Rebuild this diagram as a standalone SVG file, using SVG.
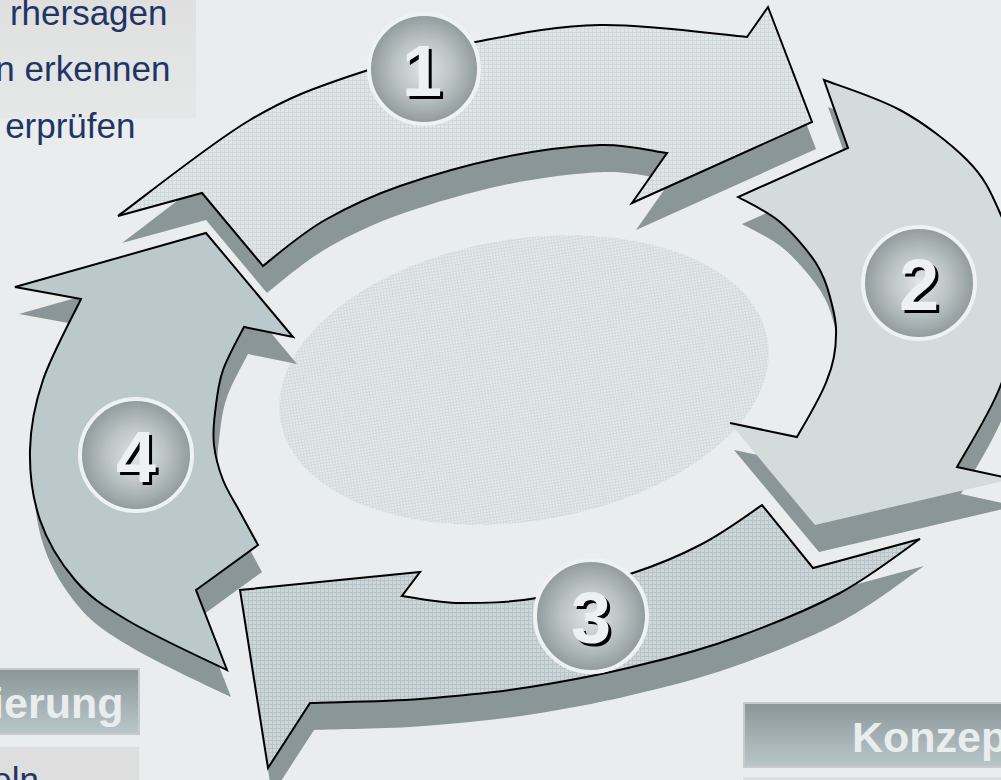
<svg xmlns="http://www.w3.org/2000/svg" width="1001" height="780" viewBox="0 0 1001 780">
<defs>
<style>
.ext{fill:#8a9698}
.ol{fill:none;stroke:#000;stroke-width:2;stroke-linejoin:miter}
.body{font-family:"Liberation Sans",Arial,sans-serif;font-size:35px;fill:#1f3566;text-anchor:end}
.hdr{font-family:"Liberation Sans",Arial,sans-serif;font-size:43px;font-weight:bold;fill:#e8eded}
.num{font-family:"Liberation Sans",Arial,sans-serif;font-size:72px;font-weight:bold;text-anchor:middle}
.ring{stroke:#eef2f2;stroke-width:4;fill:url(#rg)}
.hbox{fill:url(#hg);stroke:#c6caca;stroke-width:2}
</style>
<pattern id="p1" width="4" height="4" patternUnits="userSpaceOnUse"><rect width="4" height="4" fill="#e0e6e6"/><path d="M0 .5H4M.5 0V4" stroke="#d0d9d9" stroke-width="1"/></pattern>
<pattern id="p3" width="4" height="4" patternUnits="userSpaceOnUse"><rect width="4" height="4" fill="#cdd6d8"/><path d="M0 .5H4M.5 0V4" stroke="#b8c4c7" stroke-width="1"/></pattern>
<pattern id="pe" width="3" height="3" patternUnits="userSpaceOnUse"><rect width="3" height="3" fill="#e4e9ea"/><path d="M0 .5H3M.5 0V3" stroke="#d3dbdd" stroke-width="1"/></pattern>
<radialGradient id="rg" cx="50%" cy="50%" r="50%"><stop offset="0" stop-color="#e0e5e5"/><stop offset="0.55" stop-color="#b9c1c2"/><stop offset="1" stop-color="#8f9a9c"/></radialGradient>
<linearGradient id="hg" x1="0" y1="0" x2="0" y2="1"><stop offset="0" stop-color="#8b9699"/><stop offset="1" stop-color="#bac7ca"/></linearGradient>
<linearGradient id="tg" x1="0" y1="0" x2="0" y2="1"><stop offset="0" stop-color="#dfdfdf"/><stop offset="1" stop-color="#e6e8e8"/></linearGradient>
<path id="a1" d="M118,216 C140,200 211,143 250,120 C289,97 312,89 350,76 C388,63 433,51 475,42 C517,34 555,26 600,25 C645,24 723,35 747,37 L768,7 L812,122 L632,203 L667,153 C656,152 628,144 600,145 C572,146 533,151 500,158 C467,165 429,176 400,186 C371,196 348,207 325,220 C302,233 273,258 263,266 L202,193 Z"/>
<path id="a2" d="M824,80 C837,85 876,97 900,110 C924,123 950,143 967,160 C984,177 990,190 1000,213 C1010,236 1025,271 1025,300 C1025,329 1011,359 1000,387 C989,415 964,454 957,467 L1012,479 L815,525 L730,423 L797,437 C802,428 821,397 827,380 C834,363 836,349 836,335 C837,321 833,309 830,297 C827,285 824,276 816,263 C808,251 793,233 780,222 C767,211 745,201 738,197 L848,148 Z"/>
<path id="a3" d="M920,539 C907,548 870,577 840,593 C810,609 773,624 740,636 C707,648 675,657 640,665 C605,674 567,681 530,687 C493,693 457,696 420,699 C383,702 328,702 310,703 L268,768 L240,590 L420,572 L402,596 C412,597 438,603 460,603 C483,603 508,603 537,598 C566,593 606,582 633,573 C660,564 679,556 700,545 C722,534 752,512 762,505 L813,568 Z"/>
<path id="a4" d="M81,299 L15,287 L206,233 L293,337 L244,327 C240.5,334 228,356 223,370 C218,384 216.5,400.5 215,413 C213.5,425.5 212.7,434 214,445 C215.3,456 218.7,469 223,480 C227.3,491 234,501 240,512 C246,523 255,539.5 258,545 L196,590 L227,670 C210,662 152,635 127,620 C102,605 89.5,597 75,580 C60.5,563 47.5,542 40,520 C32.5,498 29.5,473 30,450 C30.5,427 34.5,405 43,380 C51.5,355 74.7,312.5 81,299 Z"/>
</defs>
<rect width="1001" height="780" fill="#e9eded"/>
<g id="text-top-left">
<rect x="0" y="0" width="196" height="118" fill="url(#tg)"/>
<text class="body" x="167.5" y="25">rhersagen</text>
<text class="body" x="170.5" y="81">n erkennen</text>
<text class="body" x="135.5" y="138">erprüfen</text>
</g>
<g id="center-ellipse">
<ellipse cx="524" cy="380" rx="247" ry="141" transform="rotate(-9.35 524 380)" fill="url(#pe)"/>
</g>
<g id="connectors">
<g id="arrow-4"><use href="#a4" class="ext" transform="translate(4,27)"/><use href="#a4" fill="#bcc9cc"/><use href="#a4" class="ol"/></g>
<g id="arrow-1"><use href="#a1" class="ext" transform="translate(4,27)"/><use href="#a1" fill="url(#p1)"/><use href="#a1" class="ol"/></g>
<g id="arrow-2"><use href="#a2" class="ext" transform="translate(4,27)"/><use href="#a2" fill="#d3dbdb"/>
<path class="ol" d="M730,423 L797,437 C802,428 821,397 827,380 C834,363 836,349 836,335 C837,321 833,309 830,297 C827,285 824,276 816,263 C808,251 793,233 780,222 C767,211 745,201 738,197 L848,148 L824,80 C837,85 876,97 900,110 C924,123 950,143 967,160 C984,177 990,190 1000,213 C1010,236 1025,271 1025,300 C1025,329 1011,359 1000,387 C989,415 964,454 957,467 L1012,479"/></g>
<g id="arrow-3"><use href="#a3" class="ext" transform="translate(4,27)"/><use href="#a3" fill="url(#p3)"/><use href="#a3" class="ol"/></g>
</g>
<g id="step-1"><circle cx="424" cy="69" r="55" class="ring"/><text class="num" x="425" y="99" fill="#000">1</text><text class="num" x="422" y="96" fill="#eef1f1">1</text></g>
<g id="step-2"><circle cx="919" cy="283" r="56" class="ring"/><text class="num" x="922" y="313" fill="#000">2</text><text class="num" x="919" y="310" fill="#eef1f1">2</text></g>
<g id="step-3"><circle cx="591" cy="616" r="56" class="ring"/><text class="num" x="594" y="646" fill="#000">3</text><text class="num" x="591" y="643" fill="#eef1f1">3</text></g>
<g id="step-4"><circle cx="136" cy="455" r="56" class="ring"/><text class="num" x="139" y="485" fill="#000">4</text><text class="num" x="136" y="482" fill="#eef1f1">4</text></g>
<g id="box-left">
<rect class="hbox" x="-2" y="669" width="141" height="65"/>
<text class="hdr" x="123.5" y="718" text-anchor="end">ierung</text>
<rect x="0" y="747" width="139" height="40" fill="#dedede"/>
<text class="body" x="39" y="792">eln</text>
</g>
<g id="box-right">
<rect class="hbox" x="744" y="703" width="260" height="64"/>
<text class="hdr" x="852" y="752">Konzep</text>
<rect x="743" y="777" width="260" height="10" fill="#dedede"/>
</g>
</svg>
